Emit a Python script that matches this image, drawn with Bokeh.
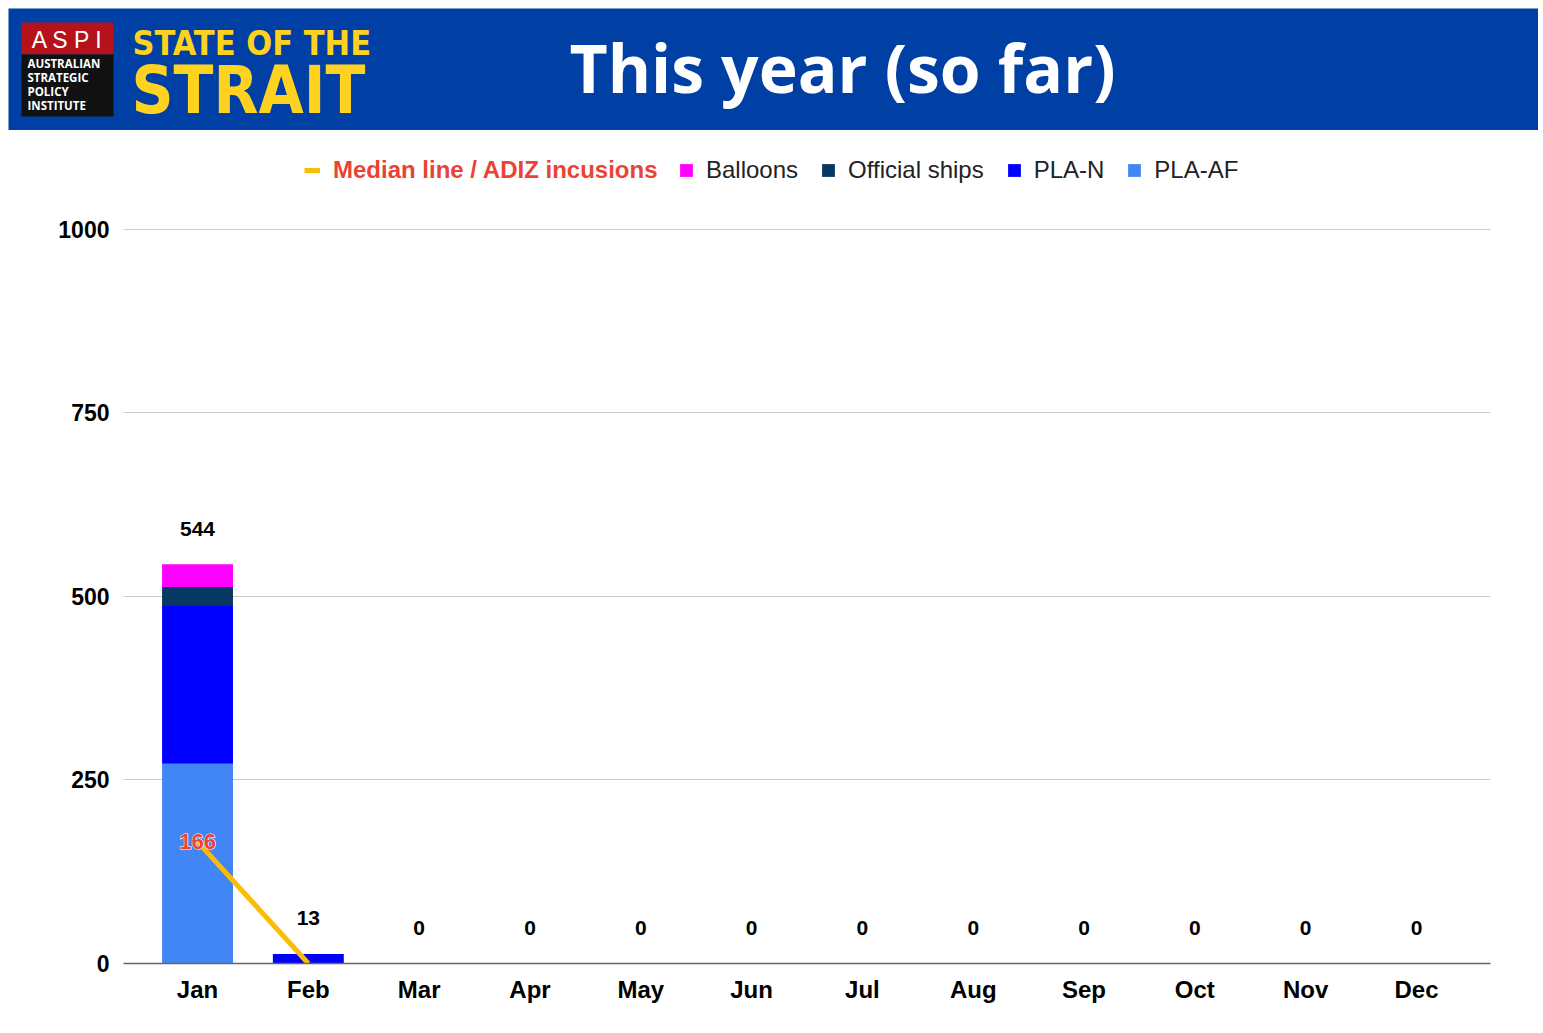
import math
from bokeh.plotting import figure
from bokeh.models import (FactorRange, Range1d, FixedTicker, Legend, LegendItem,
                          ColumnDataSource)
from bokeh.layouts import column
from bokeh.core.properties import value
from bokeh.embed import file_html
from bokeh.resources import INLINE

# ---------------- data ----------------
months = ["Jan", "Feb", "Mar", "Apr", "May", "Jun",
          "Jul", "Aug", "Sep", "Oct", "Nov", "Dec"]
pla_af = [272, 0, 0, 0, 0, 0, 0, 0, 0, 0, 0, 0]
pla_n = [215, 13, 0, 0, 0, 0, 0, 0, 0, 0, 0, 0]
official_ships = [26, 0, 0, 0, 0, 0, 0, 0, 0, 0, 0, 0]
balloons = [31, 0, 0, 0, 0, 0, 0, 0, 0, 0, 0, 0]
median_adiz = [166, 0] + [float("nan")] * 10
y_ticks = [0, 250, 500, 750, 1000]

series_names = ["PLA-AF", "PLA-N", "Official ships", "Balloons"]
series_colors = ["#4285F4", "#0000FF", "#073763", "#FF00FF"]

totals = [a + b + c + d for a, b, c, d in zip(pla_af, pla_n, official_ships, balloons)]

FONT = "Liberation Sans"
COND = "DejaVu Sans Condensed"

# ---------------- header ----------------
HB = "#0040A4"
h = figure(width=1530, height=122, x_range=Range1d(0, 1530), y_range=Range1d(122, 0),
           output_backend="svg", toolbar_location=None, min_border=0)
try:
    h.frame_align = False
except Exception:
    pass
h.axis.visible = False
h.grid.visible = False
h.outline_line_color = None
h.background_fill_color = HB
h.border_fill_color = HB

h.quad(left=[13], right=[105], top=[14], bottom=[46], fill_color="#B5121B", line_color=None)
h.quad(left=[13], right=[105], top=[46], bottom=[108], fill_color="#111111", line_color=None)
h.text(x=[59], y=[31], text=["A S P I"], text_align="center", text_baseline="middle",
       text_color="white", text_font=value(FONT), text_font_size="23px")
h.text(x=[19, 19, 19, 19], y=[55, 69, 83, 97],
       text=["AUSTRALIAN", "STRATEGIC", "POLICY", "INSTITUTE"],
       text_align="left", text_baseline="middle", text_color="white",
       text_font=value("Open Sans"), text_font_style="bold", text_font_size="11.5px")
h.text(x=[124], y=[34], text=["STATE OF THE"], text_align="left", text_baseline="middle",
       text_color="#FFD21F", text_font=value(COND),
       text_font_style="bold", text_font_size="34px")
h.text(x=[123], y=[82], text=["STRAIT"], text_align="left", text_baseline="middle",
       text_color="#FFD21F", text_font=value(COND),
       text_font_style="bold", text_font_size="65px")
h.text(x=[834], y=[58], text=["This year (so far)"], text_align="center",
       text_baseline="middle", text_color="white", text_font=value("Open Sans"),
       text_font_style="bold", text_font_size="66px")

# ---------------- chart ----------------
p = figure(width=1530, height=895,
           x_range=FactorRange(factors=months, range_padding=0.168, range_padding_units="absolute"),
           y_range=Range1d(0, 1121.25),
           output_backend="svg", toolbar_location=None,
           min_border_left=115, min_border_right=48, min_border_top=10, min_border_bottom=62)
try:
    p.frame_align = False
except Exception:
    pass
p.outline_line_color = None
p.background_fill_color = "white"
p.border_fill_color = "white"
p.xgrid.grid_line_color = None
p.ygrid.grid_line_color = "#CCCCCC"
p.ygrid.grid_line_width = 1
p.yaxis.ticker = FixedTicker(ticks=y_ticks)
p.yaxis.axis_line_color = None
p.yaxis.major_tick_line_color = None
p.yaxis.minor_tick_line_color = None
p.yaxis.major_label_text_font = FONT
p.yaxis.major_label_text_font_style = "bold"
p.yaxis.major_label_text_font_size = "23px"
p.yaxis.major_label_text_color = "black"
p.yaxis.major_label_standoff = 8
p.xaxis.axis_line_color = "#666666"
p.xaxis.axis_line_width = 1.5
p.xaxis.major_tick_line_color = None
p.xaxis.minor_tick_line_color = None
p.xaxis.major_label_text_font = FONT
p.xaxis.major_label_text_font_style = "bold"
p.xaxis.major_label_text_font_size = "24px"
p.xaxis.major_label_text_color = "black"
p.xaxis.major_label_standoff = 6

src = ColumnDataSource(dict(month=months, pla_af=pla_af, pla_n=pla_n,
                            ships=official_ships, balloons=balloons,
                            total=totals, total_label=[str(t) for t in totals]))

stack_rs = p.vbar_stack(["pla_af", "pla_n", "ships", "balloons"], x="month", width=0.64,
                        fill_color=series_colors, line_color=None, source=src)

p.text(x="month", y="total", text="total_label", source=src, text_align="center",
       text_baseline="middle", y_offset=-35.5, text_font=value(FONT),
       text_font_style="bold", text_font_size="21px", text_color="black")

line_r = p.line(x=months, y=median_adiz, line_color="#FBBC04", line_width=5)

lab_x = [m for m, v in zip(months, median_adiz) if not math.isnan(v) and v > 0]
lab_v = [v for v in median_adiz if not math.isnan(v) and v > 0]
lab_kw = dict(x=lab_x, y=lab_v, text=[str(int(v)) for v in lab_v], text_align="center",
              text_baseline="middle", text_font=value(FONT), text_font_style="bold",
              text_font_size="22px")
try:
    p.text(text_color="white", text_outline_color="white", **lab_kw)
except Exception:
    pass
p.text(text_color="#EA4335", **lab_kw)

leg1 = Legend(items=[LegendItem(label="Median line / ADIZ incusions", renderers=[line_r])],
              orientation="horizontal", location=(181, 779), padding=0, margin=0,
              border_line_color=None, background_fill_alpha=0,
              glyph_width=16, glyph_height=16, label_standoff=13,
              label_text_font=FONT, label_text_font_size="24px",
              label_text_font_style="bold", label_text_color="#EA4335")
items2 = [LegendItem(label=series_names[i], renderers=[stack_rs[i]]) for i in [3, 2, 1, 0]]
leg2 = Legend(items=items2, orientation="horizontal", location=(555, 779), padding=0, margin=0,
              border_line_color=None, background_fill_alpha=0,
              glyph_width=16, glyph_height=16, label_standoff=12, spacing=22,
              label_text_font=FONT, label_text_font_size="24px",
              label_text_color="#222222")
p.add_layout(leg1)
p.add_layout(leg2)

layout = column(h, p, spacing=0, margin=(8, 0, 0, 8))
open("out.html", "w").write(file_html(layout, INLINE))
